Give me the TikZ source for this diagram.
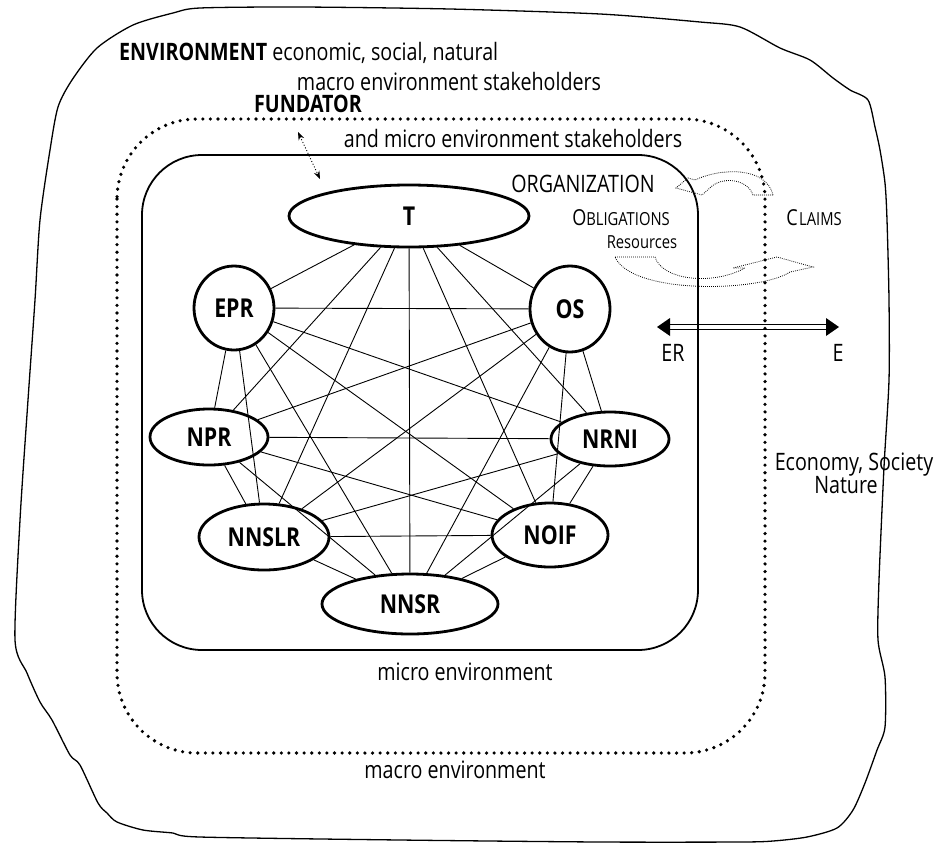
\documentclass[tikz,border=0pt]{standalone}
\usepackage{fontspec}
\setmainfont{Open Sans}[FakeStretch=0.82]
\usetikzlibrary{arrows.meta,shapes.geometric}
\newcommand\fsz[1]{\fontsize{#1}{#1}\selectfont}
\newcommand\smcap[2]{{\fsz{22}#1}{\fsz{18}#2}}
\begin{document}
\begin{tikzpicture}[x=1pt,y=-1pt,
  nd/.style={ellipse, draw, line width=2.8pt, inner sep=0pt, font=\bfseries\fsz{26}},
  edge/.style={line width=0.9pt},
  lbl/.style={inner sep=0pt, font=\fsz{24}},
  dotrect/.style={line width=3.6pt, dash pattern=on 0pt off 7.6pt, line cap=round},
  fine/.style={line width=0.8pt, dash pattern=on 0.8pt off 1.2pt},
  fund/.style={line width=0.9pt, dash pattern=on 1pt off 2pt, {Stealth[length=8pt,width=6pt]}-{Stealth[length=8pt,width=6pt]}}
]
\useasboundingbox (0,0) rectangle (939,844);

% outer hand-drawn environment boundary
\draw[line width=1.3pt] plot[smooth cycle, tension=0.45] coordinates {
 (200,8) (300,7) (450,9) (600,14) (700,22) (740,27) (780,48) (810,60)
 (833,78) (850,90) (868,100) (875,127) (880,150) (885,183) (887,220)
 (889,300) (889,380) (884,467) (879,580) (878,640) (885,677) (885,727)
 (877,750) (865,783) (853,810) (837,828) (807,837) (773,841) (740,842)
 (600,842) (400,840) (200,837) (173,833) (143,830) (117,822) (107,813)
 (98,803) (80,765) (70,755) (52,720) (40,702) (27,673) (15,640) (20,520)
 (28,400) (35,300) (40,220) (50,150) (58,107) (72,80) (97,48) (133,25) (173,13)};

% micro environment (dotted) and organization boxes
\draw[dotrect, rounded corners=80pt] (117,119) rectangle (765,753);
\draw[line width=1.8pt, rounded corners=60pt] (142,155) rectangle (698,650);

% nodes
\node[nd, minimum width=240pt, minimum height=62pt] (T) at (409,216) {T};
\node[nd, minimum width=80pt, minimum height=84pt] (EPR) at (234,308) {EPR};
\node[nd, minimum width=80pt, minimum height=86pt] (OS) at (570,309) {OS};
\node[nd, minimum width=118pt, minimum height=56pt] (NPR) at (209,437) {NPR};
\node[nd, minimum width=118pt, minimum height=54pt] (NRNI) at (610,439) {NRNI};
\node[nd, minimum width=130pt, minimum height=66pt] (NNSLR) at (264,537) {NNSLR};
\node[nd, minimum width=116pt, minimum height=64pt] (NOIF) at (550,535) {NOIF};
\node[nd, minimum width=176pt, minimum height=60pt] (NNSR) at (410,604) {NNSR};

\foreach \a/\b in {T/EPR,T/OS,T/NPR,T/NRNI,T/NNSLR,T/NOIF,T/NNSR,
  EPR/OS,EPR/NPR,EPR/NRNI,EPR/NNSLR,EPR/NOIF,EPR/NNSR,
  OS/NPR,OS/NRNI,OS/NNSLR,OS/NOIF,OS/NNSR,
  NPR/NRNI,NPR/NNSLR,NPR/NOIF,NPR/NNSR,
  NRNI/NNSLR,NRNI/NOIF,NRNI/NNSR,
  NNSLR/NOIF,NNSLR/NNSR,NOIF/NNSR}
  \draw[edge] (\a) -- (\b);

% labels
\node[lbl, anchor=west] (env) at (119,53) {\textbf{ENVIRONMENT} economic, social, natural};
\node[lbl] (macstk) at (449,81) {macro environment stakeholders};
\node[lbl, font=\bfseries\fsz{24}] (fundator) at (308,104) {FUNDATOR};
\node[lbl] (micstk) at (513,138) {and micro environment stakeholders};
\node[lbl] (org) at (583,184) {ORGANIZATION};
\node[inner sep=0pt] (obl) at (621,218) {\smcap{O}{BLIGATIONS}};
\node[inner sep=0pt] (claims) at (814,218) {\smcap{C}{\hspace{1.5pt}LAIMS}};
\node[inner sep=0pt, font=\fsz{18}] (res) at (642,242) {Resources};
\node[lbl] (er) at (673,353) {ER};
\node[lbl] (e) at (838,353) {E};
\node[lbl] (econ) at (854,465) {Economy, Society};
\node[lbl] (nat) at (846,485) {Nature};
\node[lbl] (micro) at (465,672) {micro environment};
\node[lbl] (macro) at (455,770) {macro environment};

% fundator double arrow
\coordinate (f1) at (298,132);
\coordinate (f2) at (320,179);
\draw[fund] (f1) -- (f2);

% ER <-> E double arrow
\coordinate (erL) at (657,327);
\coordinate (erR) at (839,327);
\draw[line width=1.2pt] (669,324.6) -- (828,324.6) (669,329.6) -- (828,329.6);
\fill (erL) -- (670,318) -- (670,336) -- cycle;
\fill (erR) -- (826,318) -- (826,336) -- cycle;

% obligations / claims dotted curved arrows
\draw[fine] (773,195) -- (753,195) .. controls (748,180) and (725,176) .. (712,186)
  -- (702,195) -- (676,188) -- (688,178) -- (695,180)
  .. controls (720,168) and (766,166) .. (773,195) -- cycle;
\draw[fine] (615,257) -- (655,257) .. controls (662,280) and (712,286) .. (745,268)
  -- (733,268) -- (777,257) -- (813,267) -- (790,272)
  .. controls (760,292) and (632,295) .. (615,257) -- cycle;
\end{tikzpicture}
\end{document}
